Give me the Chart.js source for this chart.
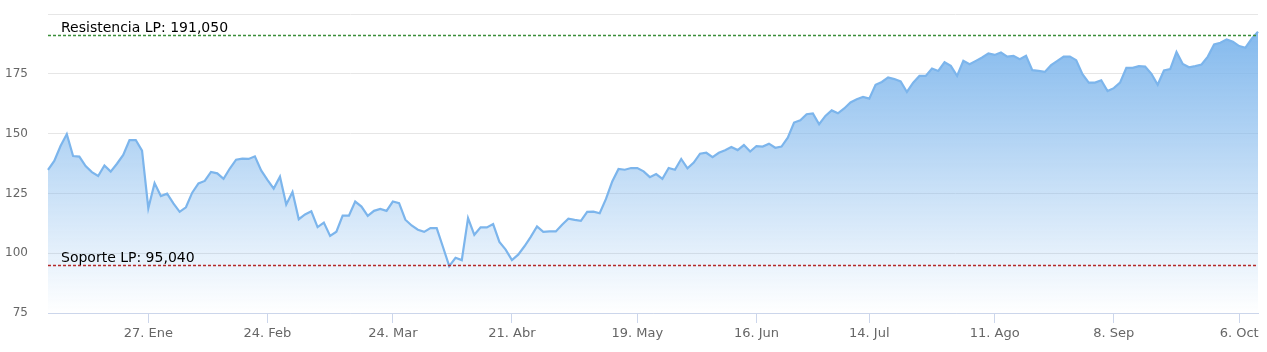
<!DOCTYPE html>
<html>
<head>
<meta charset="utf-8">
<script src="https://cdn.jsdelivr.net/npm/chart.js@4.4.1/dist/chart.umd.min.js"></script>
<style>
  html, body { margin: 0; padding: 0; background: #ffffff; }
  #wrap { width: 1267px; height: 352px; position: relative; }
</style>
</head>
<body>
<div id="wrap"><canvas id="c"></canvas></div>
<script>
// Trading days (categories)
const dates = [
  "2024-12-31",
  "2025-01-02","2025-01-03","2025-01-06","2025-01-07","2025-01-08","2025-01-10","2025-01-13","2025-01-14","2025-01-15","2025-01-16","2025-01-17","2025-01-21","2025-01-22","2025-01-23","2025-01-24","2025-01-27","2025-01-28","2025-01-29","2025-01-30","2025-01-31",
  "2025-02-03","2025-02-04","2025-02-05","2025-02-06","2025-02-07","2025-02-10","2025-02-11","2025-02-12","2025-02-13","2025-02-14","2025-02-18","2025-02-19","2025-02-20","2025-02-21","2025-02-24","2025-02-25","2025-02-26","2025-02-27","2025-02-28",
  "2025-03-03","2025-03-04","2025-03-05","2025-03-06","2025-03-07","2025-03-10","2025-03-11","2025-03-12","2025-03-13","2025-03-14","2025-03-17","2025-03-18","2025-03-19","2025-03-20","2025-03-21","2025-03-24","2025-03-25","2025-03-26","2025-03-27","2025-03-28","2025-03-31",
  "2025-04-01","2025-04-02","2025-04-03","2025-04-04","2025-04-07","2025-04-08","2025-04-09","2025-04-10","2025-04-11","2025-04-14","2025-04-15","2025-04-16","2025-04-17","2025-04-21","2025-04-22","2025-04-23","2025-04-24","2025-04-25","2025-04-28","2025-04-29","2025-04-30",
  "2025-05-01","2025-05-02","2025-05-05","2025-05-06","2025-05-07","2025-05-08","2025-05-09","2025-05-12","2025-05-13","2025-05-14","2025-05-15","2025-05-16","2025-05-19","2025-05-20","2025-05-21","2025-05-22","2025-05-23","2025-05-27","2025-05-28","2025-05-29","2025-05-30",
  "2025-06-02","2025-06-03","2025-06-04","2025-06-05","2025-06-06","2025-06-09","2025-06-10","2025-06-11","2025-06-12","2025-06-13","2025-06-16","2025-06-17","2025-06-18","2025-06-20","2025-06-23","2025-06-24","2025-06-25","2025-06-26","2025-06-27","2025-06-30",
  "2025-07-01","2025-07-02","2025-07-03","2025-07-07","2025-07-08","2025-07-09","2025-07-10","2025-07-11","2025-07-14","2025-07-15","2025-07-16","2025-07-17","2025-07-18","2025-07-21","2025-07-22","2025-07-23","2025-07-24","2025-07-25","2025-07-28","2025-07-29","2025-07-30","2025-07-31",
  "2025-08-01","2025-08-04","2025-08-05","2025-08-06","2025-08-07","2025-08-08","2025-08-11","2025-08-12","2025-08-13","2025-08-14","2025-08-15","2025-08-18","2025-08-19","2025-08-20","2025-08-21","2025-08-22","2025-08-25","2025-08-26","2025-08-27","2025-08-28","2025-08-29",
  "2025-09-02","2025-09-03","2025-09-04","2025-09-05","2025-09-08","2025-09-09","2025-09-10","2025-09-11","2025-09-12","2025-09-15","2025-09-16","2025-09-17","2025-09-18","2025-09-19","2025-09-22","2025-09-23","2025-09-24","2025-09-25","2025-09-26","2025-09-29","2025-09-30",
  "2025-10-01","2025-10-02","2025-10-03","2025-10-06","2025-10-07","2025-10-08","2025-10-09"
];

// Closing prices
const prices = [
  134.8,138.6,144.8,149.8,140.6,140.4,136.4,133.9,132.3,136.7,134.1,137.4,141.1,147.3,147.3,142.9,
  118.8,129.3,123.9,124.9,120.8,117.3,119.2,125.3,129.2,130.2,134.0,133.4,131.1,135.4,139.1,139.5,139.4,140.5,134.6,130.7,127.0,132.0,120.4,125.6,114.2,116.2,117.5,110.9,112.8,107.2,109.0,115.7,115.7,121.6,
  119.5,115.6,117.7,118.5,117.7,121.6,120.9,114.0,111.6,109.8,108.9,110.5,110.5,102.6,94.6,98.1,97.1,114.7,107.7,110.8,110.8,112.2,104.7,101.5,97.1,99.4,102.9,106.8,111.2,108.9,
  109.1,109.1,111.9,114.4,113.9,113.5,117.3,117.4,116.7,122.7,130.0,135.2,134.9,135.6,135.6,134.2,131.8,133.1,131.1,135.6,134.9,139.4,135.5,137.9,141.6,142.0,140.2,142.0,143.0,144.4,
  143.1,145.2,142.5,144.8,144.6,145.8,144.1,144.6,148.3,154.6,155.6,158.1,158.4,153.9,157.4,159.7,158.5,160.5,163.0,164.4,165.3,164.6,170.4,171.6,173.5,172.8,171.8,167.4,171.3,174.1,
  174.1,177.2,176.2,179.8,178.3,174.1,180.4,179.0,180.4,181.8,183.5,182.9,183.9,182.2,182.5,181.1,182.5,176.5,176.2,175.8,178.6,180.4,182.2,182.2,180.7,174.8,171.3,171.3,172.3,167.8,
  169.0,171.3,177.5,177.5,178.2,178.0,175.0,170.4,176.4,177.0,184.1,179.1,177.7,178.2,178.9,182.2,187.3,188.0,189.4,188.4,186.6,185.9,189.7,192.6
];

// Axis tick labels
const tickDates  = ["2025-01-27","2025-02-24","2025-03-24","2025-04-21","2025-05-19","2025-06-16","2025-07-14","2025-08-11","2025-09-08","2025-10-06"];
const tickLabels = ["27. Ene","24. Feb","24. Mar","21. Abr","19. May","16. Jun","14. Jul","11. Ago","8. Sep","6. Oct"];
const yTicks = [75, 100, 125, 150, 175, 200];

// Reference levels
const levelValues = [191.05, 95.04];
const levelLabels = ["Resistencia LP: 191,050", "Soporte LP: 95,040"];
const levelColors = ["#3a8f3a", "#b52a2a"];

const FONT = "'DejaVu Sans', Verdana, sans-serif";

const levelsPlugin = {
  id: 'levels',
  afterDatasetsDraw(chart) {
    const { ctx, chartArea, scales } = chart;
    ctx.save();
    levelValues.forEach((v, i) => {
      const y = Math.round(scales.y.getPixelForValue(v)) + 0.5;
      ctx.beginPath();
      ctx.setLineDash([3, 2]);
      ctx.lineWidth = 1.3;
      ctx.strokeStyle = levelColors[i];
      ctx.moveTo(chartArea.left, y);
      ctx.lineTo(chartArea.right, y);
      ctx.stroke();
      ctx.setLineDash([]);
      ctx.fillStyle = '#000000';
      ctx.font = '14px ' + FONT;
      ctx.textAlign = 'left';
      ctx.textBaseline = 'alphabetic';
      ctx.fillText(levelLabels[i], chartArea.left + 13, y - 4);
    });
    ctx.restore();
  }
};

new Chart(document.getElementById('c'), {
  type: 'line',
  data: {
    labels: dates,
    datasets: [{
      data: prices,
      borderColor: '#7cb5ec',
      borderWidth: 2.2,
      pointRadius: 0,
      pointHoverRadius: 0,
      tension: 0,
      fill: 'start',
      backgroundColor: (c) => {
        const area = c.chart.chartArea;
        if (!area) return 'rgba(124,181,236,0.5)';
        const g = c.chart.ctx.createLinearGradient(0, area.top, 0, area.bottom);
        g.addColorStop(0, 'rgba(124,181,236,1)');
        g.addColorStop(1, 'rgba(124,181,236,0)');
        return g;
      }
    }]
  },
  options: {
    responsive: true,
    maintainAspectRatio: false,
    animation: false,
    devicePixelRatio: 1,
    layout: { padding: { top: 14, right: 9, left: 0, bottom: 0 } },
    plugins: { legend: { display: false }, tooltip: { enabled: false } },
    scales: {
      x: {
        type: 'category',
        offset: false,
        afterBuildTicks: (axis) => {
          axis.ticks = axis.ticks.filter(t => tickDates.includes(dates[t.value]));
        },
        afterFit: (axis) => {
          axis.height = 39;
          axis.paddingLeft = 0; axis.paddingRight = 0; axis.paddingTop = 0; axis.paddingBottom = 0;
        },
        ticks: {
          autoSkip: false,
          maxRotation: 0,
          minRotation: 0,
          padding: 3,
          color: '#666666',
          font: { family: FONT, size: 13 },
          callback: function (value) {
            const k = tickDates.indexOf(dates[value]);
            return k >= 0 ? tickLabels[k] : '';
          }
        },
        grid: { drawOnChartArea: false, drawTicks: true, tickLength: 10, color: '#ccd6eb', lineWidth: 1 },
        border: { display: true, color: '#ccd6eb', width: 1 }
      },
      y: {
        min: 75,
        max: 200,
        afterBuildTicks: (axis) => { axis.ticks = yTicks.map(v => ({ value: v })); },
        afterFit: (axis) => {
          axis.width = 48;
          axis.paddingTop = 0; axis.paddingBottom = 0; axis.paddingLeft = 0; axis.paddingRight = 0;
        },
        ticks: {
          padding: 20,
          color: '#666666',
          font: { family: FONT, size: 12 },
          callback: (v) => (v === 200 ? '' : String(v))
        },
        grid: { color: '#e6e6e6', lineWidth: 1, drawTicks: false },
        border: { display: false }
      }
    }
  },
  plugins: [levelsPlugin]
});
</script>
</body>
</html>
